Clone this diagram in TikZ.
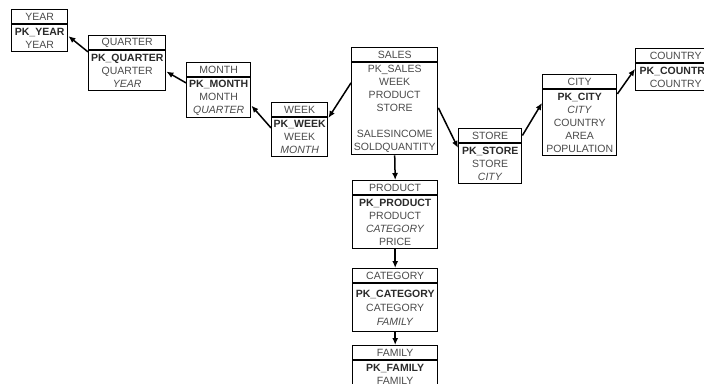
\documentclass[tikz,border=0pt]{standalone}
\usepackage{fontspec}
\setmainfont{Liberation Sans}
\usetikzlibrary{arrows.meta}
\definecolor{txt}{HTML}{4A4A4A}
\definecolor{pktxt}{HTML}{2A2A2A}
\tikzset{
  ttl/.style={draw, line width=1.4pt, anchor=north west, inner sep=0pt,
    minimum height=13.5pt, text=txt, font=\fontsize{10.5}{13}\selectfont},
  bdy/.style={draw, line width=1.4pt, anchor=north west, inner sep=0pt,
    align=center, text=txt, font=\fontsize{10.5}{13}\selectfont},
  fk/.style={-{Latex[length=7pt,width=6pt]}, line width=1.5pt},
}
\newcommand{\pk}[1]{\textcolor{pktxt}{\textbf{#1}}}
\newcommand{\dbtab}[7]{%
  \node[ttl, minimum width=#4pt] (#1t) at (#2,#3) {#5};
  \node[bdy, minimum width=#4pt, text width=#4pt, minimum height=#6pt] (#1) at (#1t.south west) {#7};
}
\begin{document}
\begin{tikzpicture}[x=1pt,y=-1pt]
\useasboundingbox (0,0) rectangle (704,383);
\dbtab{year}{11}{9}{56}{YEAR}{27}{\pk{PK\_YEAR}\\YEAR}
\dbtab{quarter}{88}{35}{77}{QUARTER}{40}{\pk{PK\_QUARTER}\\QUARTER\\\textit{YEAR}}
\dbtab{month}{186}{62}{64}{MONTH}{40}{\pk{PK\_MONTH}\\MONTH\\\textit{QUARTER}}
\dbtab{week}{271}{102}{56}{WEEK}{39}{\pk{PK\_WEEK}\\WEEK\\\textit{MONTH}}
\dbtab{sales}{351}{47}{86}{SALES}{92}{PK\_SALES\\WEEK\\PRODUCT\\STORE\\[13pt]SALESINCOME\\SOLDQUANTITY}
\dbtab{store}{458}{128}{63}{STORE}{40}{\pk{PK\_STORE}\\STORE\\\textit{CITY}}
\dbtab{city}{542}{74}{74}{CITY}{66}{\pk{PK\_CITY}\\\textit{CITY}\\COUNTRY\\AREA\\POPULATION}
\dbtab{country}{635}{48}{80}{COUNTRY}{27}{\pk{PK\_COUNTRY}\\COUNTRY}
\dbtab{product}{352}{180}{85}{PRODUCT}{53}{\pk{PK\_PRODUCT}\\PRODUCT\\\textit{CATEGORY}\\PRICE}
\dbtab{category}{352}{268}{85}{CATEGORY}{48}{\pk{PK\_CATEGORY}\\[1pt]CATEGORY\\[1pt]\textit{FAMILY}}
\dbtab{family}{352}{345}{85}{FAMILY}{40}{\pk{PK\_FAMILY}\\FAMILY\\\textit{}}

\draw[fk] ([yshift=-2pt]quarter.north west) -- ([yshift=2pt]year.east);
\draw[fk] ([yshift=-6pt]month.north west) -- ([yshift=-1pt]quarter.east);
\draw[fk] ([yshift=-11pt]week.north west) -- ([yshift=-8pt]month.east);
\draw[fk] ([yshift=-21pt]sales.north west) -- ([yshift=-1pt]week.north east);
\draw[fk] ([yshift=-46pt]sales.north east) -- ([yshift=-5pt]store.north west);
\draw[fk] (storet.east) -- ([yshift=-14pt]city.north west);
\draw[fk] ([yshift=-5pt]city.north east) -- ([yshift=-6pt]country.north west);
\draw[fk] (sales.south) -- (productt.north);
\draw[fk] (product.south) -- (categoryt.north);
\draw[fk] (category.south) -- (familyt.north);
\end{tikzpicture}
\end{document}
